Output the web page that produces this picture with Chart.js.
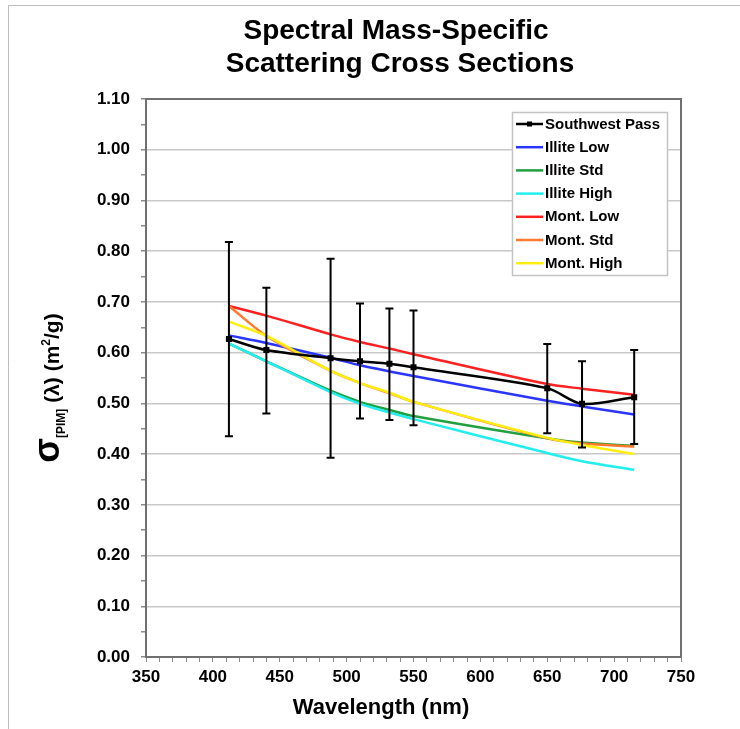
<!DOCTYPE html>
<html>
<head>
<meta charset="utf-8">
<script src="https://cdn.jsdelivr.net/npm/chart.js@4/dist/chart.umd.min.js"></script>
<style>
  html, body { margin: 0; padding: 0; background: #fff; }
  #wrap { width: 740px; height: 729px; }
</style>
</head>
<body>
<div id="wrap"><canvas id="chart" width="740" height="729"></canvas></div>
<script>
// wavelengths (nm)
const wavelengths = [412, 440, 488, 510, 532, 550, 650, 676, 715];

// measured, with error bar ends
const southwestPass = [0.627, 0.605, 0.589, 0.583, 0.578, 0.571, 0.530, 0.499, 0.512];
const swpErrLow     = [0.435, 0.480, 0.393, 0.470, 0.467, 0.457, 0.441, 0.413, 0.420];
const swpErrHigh    = [0.818, 0.728, 0.785, 0.697, 0.687, 0.683, 0.617, 0.583, 0.605];

// model curves
const illiteLow  = [0.634, 0.619, 0.590, 0.575, 0.563, 0.554, 0.505, 0.494, 0.478];
const illiteStd  = [0.618, 0.583, 0.525, 0.503, 0.487, 0.475, 0.431, 0.423, 0.416];
const illiteHigh = [0.618, 0.583, 0.522, 0.499, 0.482, 0.469, 0.402, 0.386, 0.369];
const montLow    = [0.692, 0.673, 0.636, 0.621, 0.608, 0.597, 0.538, 0.529, 0.517];
const montStd    = [0.692, 0.633, 0.564, 0.540, 0.520, 0.503, 0.431, 0.421, 0.415];
const montHigh   = [0.661, 0.633, 0.564, 0.540, 0.521, 0.503, 0.432, 0.418, 0.400];

const xTicks = [350, 400, 450, 500, 550, 600, 650, 700, 750];
const yTicks = [0, 0.1, 0.2, 0.3, 0.4, 0.5, 0.6, 0.7, 0.8, 0.9, 1.0, 1.1];

const titleLines = ['Spectral Mass-Specific', 'Scattering Cross Sections'];

const FONT = '"Liberation Sans", Arial, sans-serif';

function pts(ys) {
    return wavelengths.map(function (w, i) { return {x: w, y: ys[i]}; });
}

function series(label, ys, color, order) {
    return {
        label: label,
        data: pts(ys),
        borderColor: color,
        backgroundColor: color,
        borderWidth: 2.5,
        pointRadius: 0,
        tension: 0.3,
        order: order
    };
}

var datasets = [
    {
        label: 'Southwest Pass',
        data: pts(southwestPass),
        borderColor: '#000',
        backgroundColor: '#000',
        borderWidth: 2.5,
        pointStyle: 'rect',
        pointRadius: 2.5,
        tension: 0.3,
        order: 0
    },
    series('Illite Low', illiteLow, '#2a35ff', 6),
    series('Illite Std', illiteStd, '#22a040', 5),
    series('Illite High', illiteHigh, '#22eeee', 4),
    series('Mont. Low', montLow, '#ff2020', 3),
    series('Mont. Std', montStd, '#ff7a2a', 2),
    series('Mont. High', montHigh, '#ffee10', 1)
];

function isMajorY(v) {
    return Math.round(v * 100) % 10 === 0;
}

// outer figure border, plot frame
var framePlugin = {
    id: 'frame',
    beforeDraw: function (chart) {
        var c = chart.ctx;
        c.save();
        c.strokeStyle = '#bdbdbd';
        c.lineWidth = 1;
        c.beginPath();
        c.moveTo(8.5, 729);
        c.lineTo(8.5, 5.5);
        c.lineTo(740, 5.5);
        c.stroke();
        c.restore();
    },
    beforeDatasetsDraw: function (chart) {
        var a = chart.chartArea, c = chart.ctx;
        c.save();
        c.strokeStyle = '#707070';
        c.lineWidth = 2;
        c.strokeRect(a.left, a.top, a.right - a.left, a.bottom - a.top);
        c.restore();
    }
};

// error bars of Southwest Pass
var errorBarPlugin = {
    id: 'errorBars',
    afterDatasetsDraw: function (chart) {
        var xs = chart.scales.x, ys = chart.scales.y, c = chart.ctx;
        c.save();
        c.strokeStyle = '#000';
        c.lineWidth = 2;
        wavelengths.forEach(function (w, i) {
            var px = xs.getPixelForValue(w);
            var lo = ys.getPixelForValue(swpErrLow[i]);
            var hi = ys.getPixelForValue(swpErrHigh[i]);
            c.beginPath();
            c.moveTo(px, lo); c.lineTo(px, hi);
            c.moveTo(px - 4, lo); c.lineTo(px + 4, lo);
            c.moveTo(px - 4, hi); c.lineTo(px + 4, hi);
            c.stroke();
        });
        c.restore();
    }
};

// titles and legend box
var labelsPlugin = {
    id: 'labels',
    afterDraw: function (chart) {
        var c = chart.ctx;
        c.save();
        c.fillStyle = '#000';

        // chart title
        c.font = 'bold 28px ' + FONT;
        c.textAlign = 'center';
        c.textBaseline = 'middle';
        c.fillText(titleLines[0], 396, 31);
        c.fillText(titleLines[1], 400, 64);

        // x title
        c.font = 'bold 22px ' + FONT;
        c.fillText('Wavelength (nm)', 381, 708);

        // y title with sub/superscript
        var parts = [
            {t: 'σ', f: 'bold 36px ', dy: 0},
            {t: '[PIM]', f: 'bold 12px ', dy: 6},
            {t: ' (λ) (m', f: 'bold 21px ', dy: 0},
            {t: '2', f: 'bold 12px ', dy: -9},
            {t: '/g)', f: 'bold 21px ', dy: 0}
        ];
        var total = 0;
        parts.forEach(function (p) {
            c.font = p.f + FONT;
            p.w = c.measureText(p.t).width;
            total += p.w;
        });
        c.translate(59, 388);
        c.rotate(-Math.PI / 2);
        c.textAlign = 'left';
        c.textBaseline = 'alphabetic';
        var x = -total / 2;
        parts.forEach(function (p) {
            c.font = p.f + FONT;
            c.fillText(p.t, x, p.dy);
            x += p.w;
        });
        c.restore();

        // legend
        c.save();
        c.fillStyle = '#fff';
        c.fillRect(512, 112, 155, 163);
        c.strokeStyle = '#c4c4c4';
        c.lineWidth = 1.5;
        c.strokeRect(512.5, 112.5, 155, 163);
        c.font = 'bold 15px ' + FONT;
        c.textAlign = 'left';
        c.textBaseline = 'middle';
        chart.data.datasets.forEach(function (ds, i) {
            var y = 124 + i * 23.2;
            c.strokeStyle = ds.borderColor;
            c.lineWidth = 2.5;
            c.beginPath();
            c.moveTo(516, y); c.lineTo(543, y);
            c.stroke();
            if (i === 0) {
                c.fillStyle = '#000';
                c.fillRect(527, y - 2.5, 5, 5);
            }
            c.fillStyle = '#000';
            c.fillText(ds.label, 545, y + 0.5);
        });
        c.restore();
    }
};

new Chart(document.getElementById('chart').getContext('2d'), {
    type: 'line',
    data: { datasets: datasets },
    plugins: [framePlugin, errorBarPlugin, labelsPlugin],
    options: {
        responsive: false,
        animation: false,
        events: [],
        layout: { padding: { left: 76, right: 59, top: 99, bottom: 0 } },
        plugins: {
            legend: { display: false },
            tooltip: { enabled: false },
            title: { display: false }
        },
        scales: {
            x: {
                type: 'linear',
                min: xTicks[0],
                max: xTicks[xTicks.length - 1],
                afterFit: function (s) { s.height = 72; },
                ticks: {
                    stepSize: 10,
                    autoSkip: false,
                    maxRotation: 0,
                    padding: 5,
                    color: '#000',
                    font: { family: FONT, size: 17, weight: 'bold' },
                    callback: function (v) { return xTicks.indexOf(v) >= 0 ? String(v) : ''; }
                },
                grid: { drawOnChartArea: false, tickLength: 5, tickColor: '#8a8a8a', lineWidth: 1 },
                border: { color: '#707070', width: 2 }
            },
            y: {
                min: yTicks[0],
                max: yTicks[yTicks.length - 1],
                afterFit: function (s) { s.width = 70; },
                ticks: {
                    stepSize: 0.05,
                    autoSkip: false,
                    padding: 11,
                    color: '#000',
                    font: { family: FONT, size: 17, weight: 'bold' },
                    callback: function (v) { return isMajorY(v) ? v.toFixed(2) : ''; }
                },
                grid: {
                    tickLength: 5,
                    lineWidth: 1.5,
                    tickColor: '#8a8a8a',
                    color: function (ctx) {
                        return ctx.tick && isMajorY(ctx.tick.value) ? '#c8c8c8' : 'rgba(0,0,0,0)';
                    }
                },
                border: { color: '#707070', width: 2 }
            }
        }
    }
});
</script>
</body>
</html>
